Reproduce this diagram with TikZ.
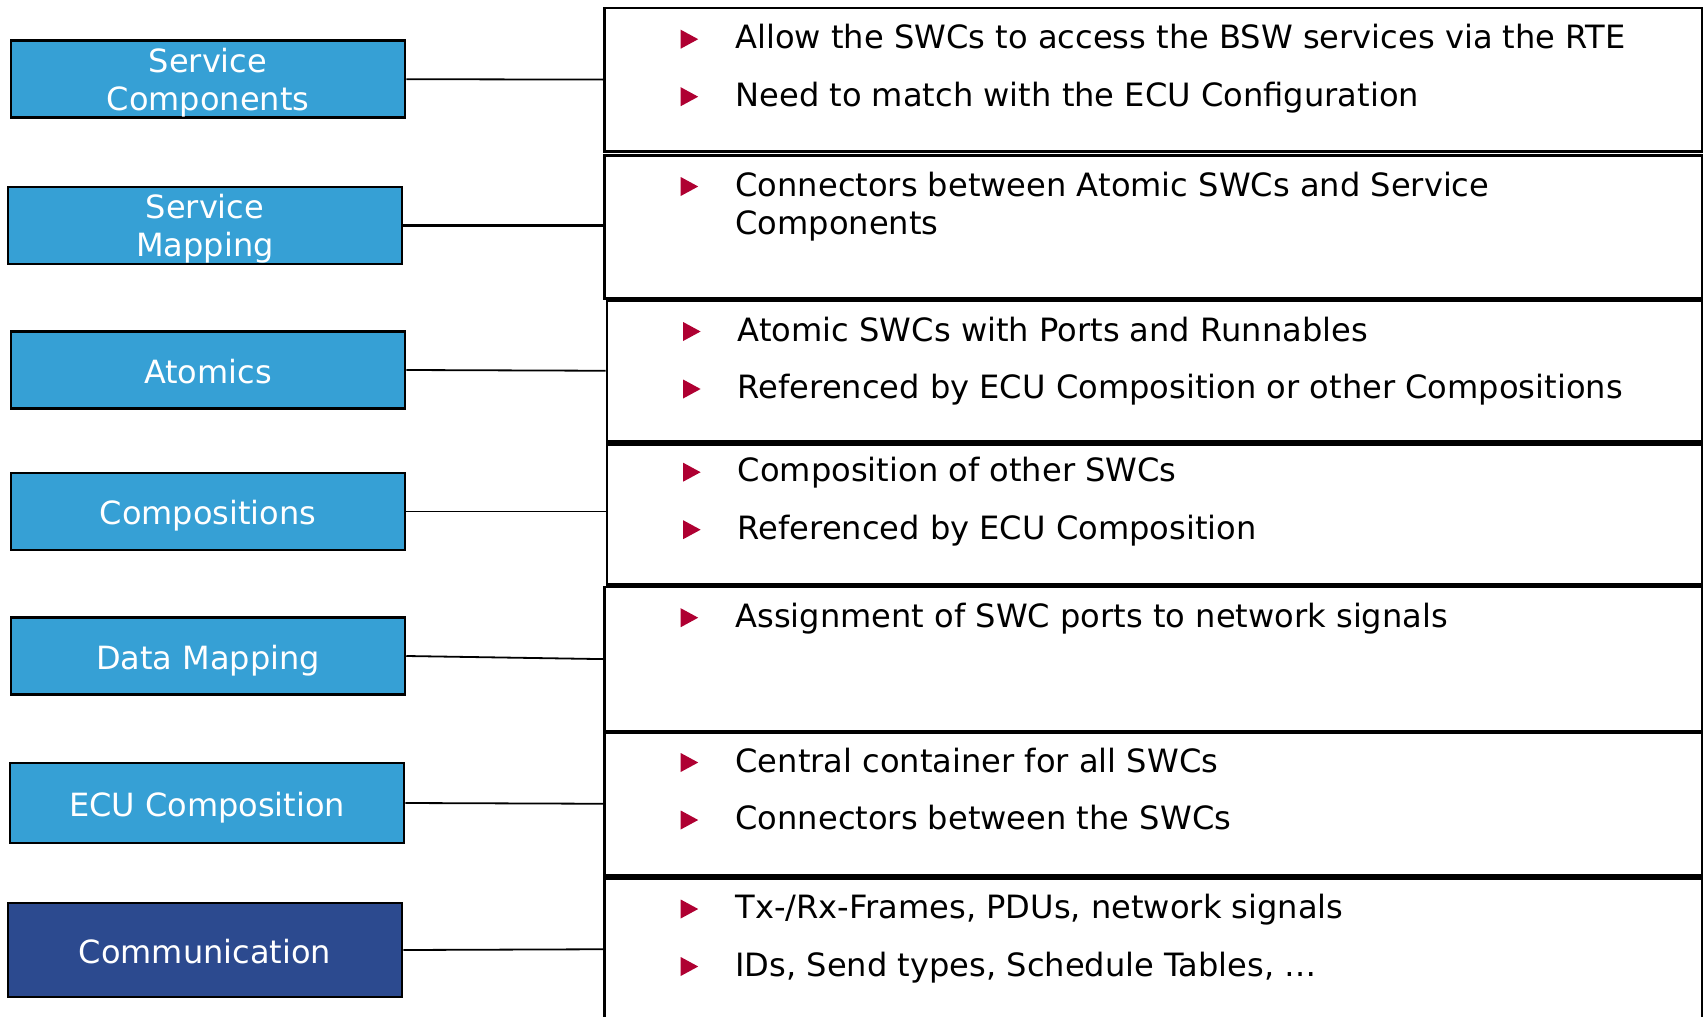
\documentclass[tikz,border=0pt]{standalone}
\usepackage{fontspec}
\setmainfont{DejaVu Sans}
\definecolor{lblue}{RGB}{54,160,213}
\definecolor{dblue}{RGB}{44,74,143}
\definecolor{bulred}{RGB}{175,0,50}
\begin{document}
\begin{tikzpicture}[x=1pt,y=-1pt,
  lbox/.style={draw=black, line width=2.5pt, fill=lblue, text=white, minimum width=394pt, minimum height=77pt, inner sep=0pt, font=\fontsize{32}{38}\selectfont, align=center},
  oneline/.style={text height=26pt, text depth=0pt},
  rbox/.style={draw=black, line width=2.5pt, fill=white, anchor=north west, inner sep=0pt},
  itemtxt/.style={anchor=base west, inner sep=0pt, font=\fontsize{32.1}{38}\selectfont, text=black},
  link/.style={draw=black, line width=1.8pt},
  tribul/.pic={\fill[bulred] (0,0) -- (0,-19) -- (17.5,-9.5) -- cycle;}
]
\clip (0,0) rectangle (1703,1017);
\fill[white] (0,0) rectangle (1703,1017);

% right boxes
\node[rbox, minimum width=1097.7pt, minimum height=143.3pt] (r1) at (603.3,6.7) {};
\node[rbox, minimum width=1097.7pt, minimum height=143pt] (r2) at (603.3,154) {};
\node[rbox, minimum width=1095.3pt, minimum height=141pt] (r3) at (605.7,299) {};
\node[rbox, minimum width=1095.3pt, minimum height=140.3pt] (r4) at (605.7,443) {};
\node[rbox, minimum width=1097.7pt, minimum height=144.3pt] (r5) at (603.3,585.7) {};
\node[rbox, minimum width=1097.7pt, minimum height=143pt] (r6) at (603.3,731) {};
\node[rbox, minimum width=1097.7pt, minimum height=142pt] (r7) at (603.3,877) {};

% left boxes
\node[lbox] (l1) at (208,79.2) {\rule{0pt}{31pt}Service\\Components};
\node[lbox] (l2) at (205,225.5) {\rule{0pt}{31pt}Service\\Mapping};
\node[lbox, oneline] (l3) at (208,370) {Atomics};
\node[lbox, oneline] (l4) at (208,511.5) {Compositions};
\node[lbox, oneline] (l5) at (208,656) {Data Mapping};
\node[lbox, oneline, minimum height=80pt] (l6) at (207,803) {ECU Composition};
\node[lbox, oneline, fill=dblue, minimum height=94pt] (l7) at (205,950) {Communication};

% connectors
\draw[link] (l1.east) -- (r1.west);
\draw[link, line width=3pt] (l2.east) -- (l2.east -| r2.west);
\draw[link] (l3.east) -- (r3.west);
\draw[link] (l4.east) -- (l4.east -| r4.west);
\draw[link] (l5.east) -- (r5.west);
\draw[link] (l6.east) -- (r6.west);
\draw[link] (l7.east) -- (r7.west);

% bullets
\pic at ([xshift=77.4pt,yshift=-42pt]r1.north west) {tribul};
\pic at ([xshift=77.4pt,yshift=-99.5pt]r1.north west) {tribul};
\pic at ([xshift=77.4pt,yshift=-42pt]r2.north west) {tribul};
\pic at ([xshift=77.4pt,yshift=-42pt]r3.north west) {tribul};
\pic at ([xshift=77.4pt,yshift=-99.5pt]r3.north west) {tribul};
\pic at ([xshift=77.4pt,yshift=-38.7pt]r4.north west) {tribul};
\pic at ([xshift=77.4pt,yshift=-96.2pt]r4.north west) {tribul};
\pic at ([xshift=77.4pt,yshift=-41.5pt]r5.north west) {tribul};
\pic at ([xshift=77.4pt,yshift=-41pt]r6.north west) {tribul};
\pic at ([xshift=77.4pt,yshift=-98.5pt]r6.north west) {tribul};
\pic at ([xshift=77.4pt,yshift=-41.5pt]r7.north west) {tribul};
\pic at ([xshift=77.4pt,yshift=-99pt]r7.north west) {tribul};

% texts
\node[itemtxt] (t11) at ([xshift=132pt,yshift=-42pt]r1.north west) {Allow the SWCs to access the BSW services via the RTE};
\node[itemtxt] (t12) at ([xshift=132pt,yshift=-99.5pt]r1.north west) {Need to match with the ECU Configuration};
\node[itemtxt] (t21) at ([xshift=132pt,yshift=-42pt]r2.north west) {Connectors between Atomic SWCs and Service};
\node[itemtxt] (t22) at ([xshift=132pt,yshift=-80pt]r2.north west) {Components};
\node[itemtxt] (t31) at ([xshift=132pt,yshift=-42pt]r3.north west) {Atomic SWCs with Ports and Runnables};
\node[itemtxt] (t32) at ([xshift=132pt,yshift=-99.5pt]r3.north west) {Referenced by ECU Composition or other Compositions};
\node[itemtxt] (t41) at ([xshift=132pt,yshift=-38.7pt]r4.north west) {Composition of other SWCs};
\node[itemtxt] (t42) at ([xshift=132pt,yshift=-96.2pt]r4.north west) {Referenced by ECU Composition};
\node[itemtxt] (t51) at ([xshift=132pt,yshift=-41.5pt]r5.north west) {Assignment of SWC ports to network signals};
\node[itemtxt] (t61) at ([xshift=132pt,yshift=-41pt]r6.north west) {Central container for all SWCs};
\node[itemtxt] (t62) at ([xshift=132pt,yshift=-98.5pt]r6.north west) {Connectors between the SWCs};
\node[itemtxt] (t71) at ([xshift=132pt,yshift=-41.5pt]r7.north west) {Tx-/Rx-Frames, PDUs, network signals};
\node[itemtxt] (t72) at ([xshift=132pt,yshift=-99pt]r7.north west) {IDs, Send types, Schedule Tables, …};
\end{tikzpicture}
\end{document}
